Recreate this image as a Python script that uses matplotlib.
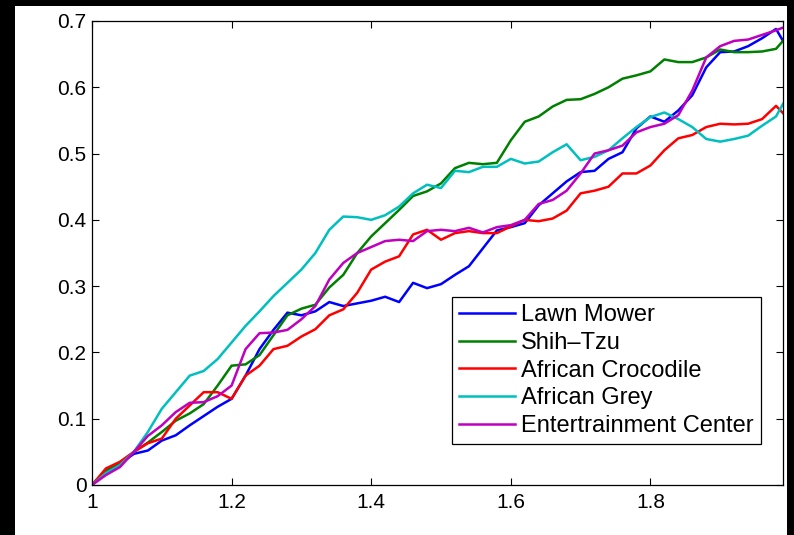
import numpy as np
import matplotlib
matplotlib.use("Agg")
import matplotlib.pyplot as plt
from matplotlib.patches import Rectangle

# sample positions (last point at 1.99)
x = np.r_[np.arange(1.0, 1.99, 0.02), 1.99]

lawn_mower = [0, 0.022, 0.032, 0.047, 0.052, 0.067, 0.075, 0.09, 0.104, 0.118,
              0.13, 0.165, 0.205, 0.234, 0.26, 0.256, 0.262, 0.276, 0.27, 0.274,
              0.278, 0.284, 0.276, 0.305, 0.297, 0.303, 0.317, 0.33, 0.357, 0.384,
              0.389, 0.395, 0.422, 0.44, 0.458, 0.472, 0.474, 0.492, 0.502, 0.538,
              0.556, 0.548, 0.565, 0.588, 0.63, 0.653, 0.654, 0.662, 0.674, 0.688,
              0.67]
shih_tzu = [0, 0.022, 0.033, 0.05, 0.064, 0.08, 0.097, 0.108, 0.122, 0.15,
            0.18, 0.182, 0.196, 0.226, 0.256, 0.266, 0.272, 0.298, 0.317, 0.35,
            0.375, 0.395, 0.415, 0.436, 0.443, 0.455, 0.478, 0.486, 0.484, 0.486,
            0.52, 0.548, 0.556, 0.571, 0.581, 0.582, 0.59, 0.6, 0.613, 0.618,
            0.624, 0.642, 0.638, 0.638, 0.645, 0.657, 0.653, 0.653, 0.654, 0.658,
            0.67]
crocodile = [0, 0.025, 0.035, 0.05, 0.063, 0.07, 0.1, 0.12, 0.14, 0.14,
             0.13, 0.165, 0.18, 0.205, 0.21, 0.224, 0.235, 0.256, 0.265, 0.29,
             0.325, 0.337, 0.345, 0.378, 0.385, 0.37, 0.38, 0.383, 0.38, 0.38,
             0.39, 0.4, 0.398, 0.402, 0.414, 0.44, 0.444, 0.45, 0.47, 0.47,
             0.482, 0.505, 0.523, 0.528, 0.54, 0.545, 0.544, 0.545, 0.552, 0.572,
             0.561]
african_grey = [0, 0.018, 0.03, 0.05, 0.08, 0.115, 0.14, 0.165, 0.172, 0.19,
                0.215, 0.24, 0.262, 0.285, 0.305, 0.325, 0.35, 0.385, 0.405, 0.404,
                0.4, 0.407, 0.42, 0.44, 0.453, 0.448, 0.474, 0.472, 0.48, 0.48,
                0.492, 0.485, 0.488, 0.502, 0.514, 0.49, 0.495, 0.505, 0.523, 0.54,
                0.555, 0.562, 0.552, 0.54, 0.522, 0.518, 0.522, 0.527, 0.542, 0.556,
                0.575]
ent_center = [0, 0.015, 0.027, 0.05, 0.074, 0.09, 0.11, 0.124, 0.125, 0.134,
              0.15, 0.205, 0.229, 0.23, 0.234, 0.25, 0.27, 0.31, 0.335, 0.35,
              0.359, 0.368, 0.37, 0.368, 0.383, 0.385, 0.383, 0.388, 0.381, 0.389,
              0.392, 0.4, 0.424, 0.43, 0.444, 0.47, 0.5, 0.505, 0.512, 0.532,
              0.54, 0.545, 0.558, 0.595, 0.645, 0.662, 0.67, 0.672, 0.679, 0.686,
              0.69]

series = [
    ("Lawn Mower", lawn_mower, "#0000ff"),
    ("Shih\u2013Tzu", shih_tzu, "#008000"),
    ("African Crocodile", crocodile, "#ff0000"),
    ("African Grey", african_grey, "#00bfbf"),
    ("Entertrainment Center", ent_center, "#bf00bf"),
]

plt.rcParams["font.family"] = ["Liberation Sans", "DejaVu Sans"]

fig = plt.figure(figsize=(7.94, 5.35), dpi=100)
fig.patch.set_facecolor("black")
# white canvas inside the black frame
fig.add_artist(Rectangle((15 / 794, 0), 772 / 794, 529 / 535,
                         transform=fig.transFigure, facecolor="white",
                         edgecolor="none", zorder=-10))

ax = fig.add_axes([92 / 794, 50 / 535, 691 / 794, 464 / 535])
for name, vals, col in series:
    ax.plot(x, vals, color=col, lw=1.8, label=name)

ax.set_xlim(1, 1.99)
ax.set_ylim(0, 0.7)
ax.set_xticks([1, 1.2, 1.4, 1.6, 1.8])
ax.set_xticklabels(["1", "1.2", "1.4", "1.6", "1.8"])
ax.set_yticks(np.arange(0, 0.71, 0.1))
ax.set_yticklabels(["0", "0.1", "0.2", "0.3", "0.4", "0.5", "0.6", "0.7"])
ax.tick_params(direction="in", length=5, width=0.8, top=True, right=True,
               labelsize=15)
ax.tick_params(axis="y", pad=4)
ax.tick_params(axis="x", pad=6)
for s in ax.spines.values():
    s.set_linewidth(0.9)

leg = ax.legend(loc="lower right", bbox_to_anchor=(0.968, 0.088),
                borderaxespad=0, fontsize=17, fancybox=False,
                edgecolor="black", framealpha=1, handlelength=2.4,
                labelspacing=0.24, borderpad=0.3, handletextpad=0.25)
leg.get_frame().set_linewidth(0.9)

fig.savefig("out.png", dpi=100, facecolor=fig.get_facecolor())
